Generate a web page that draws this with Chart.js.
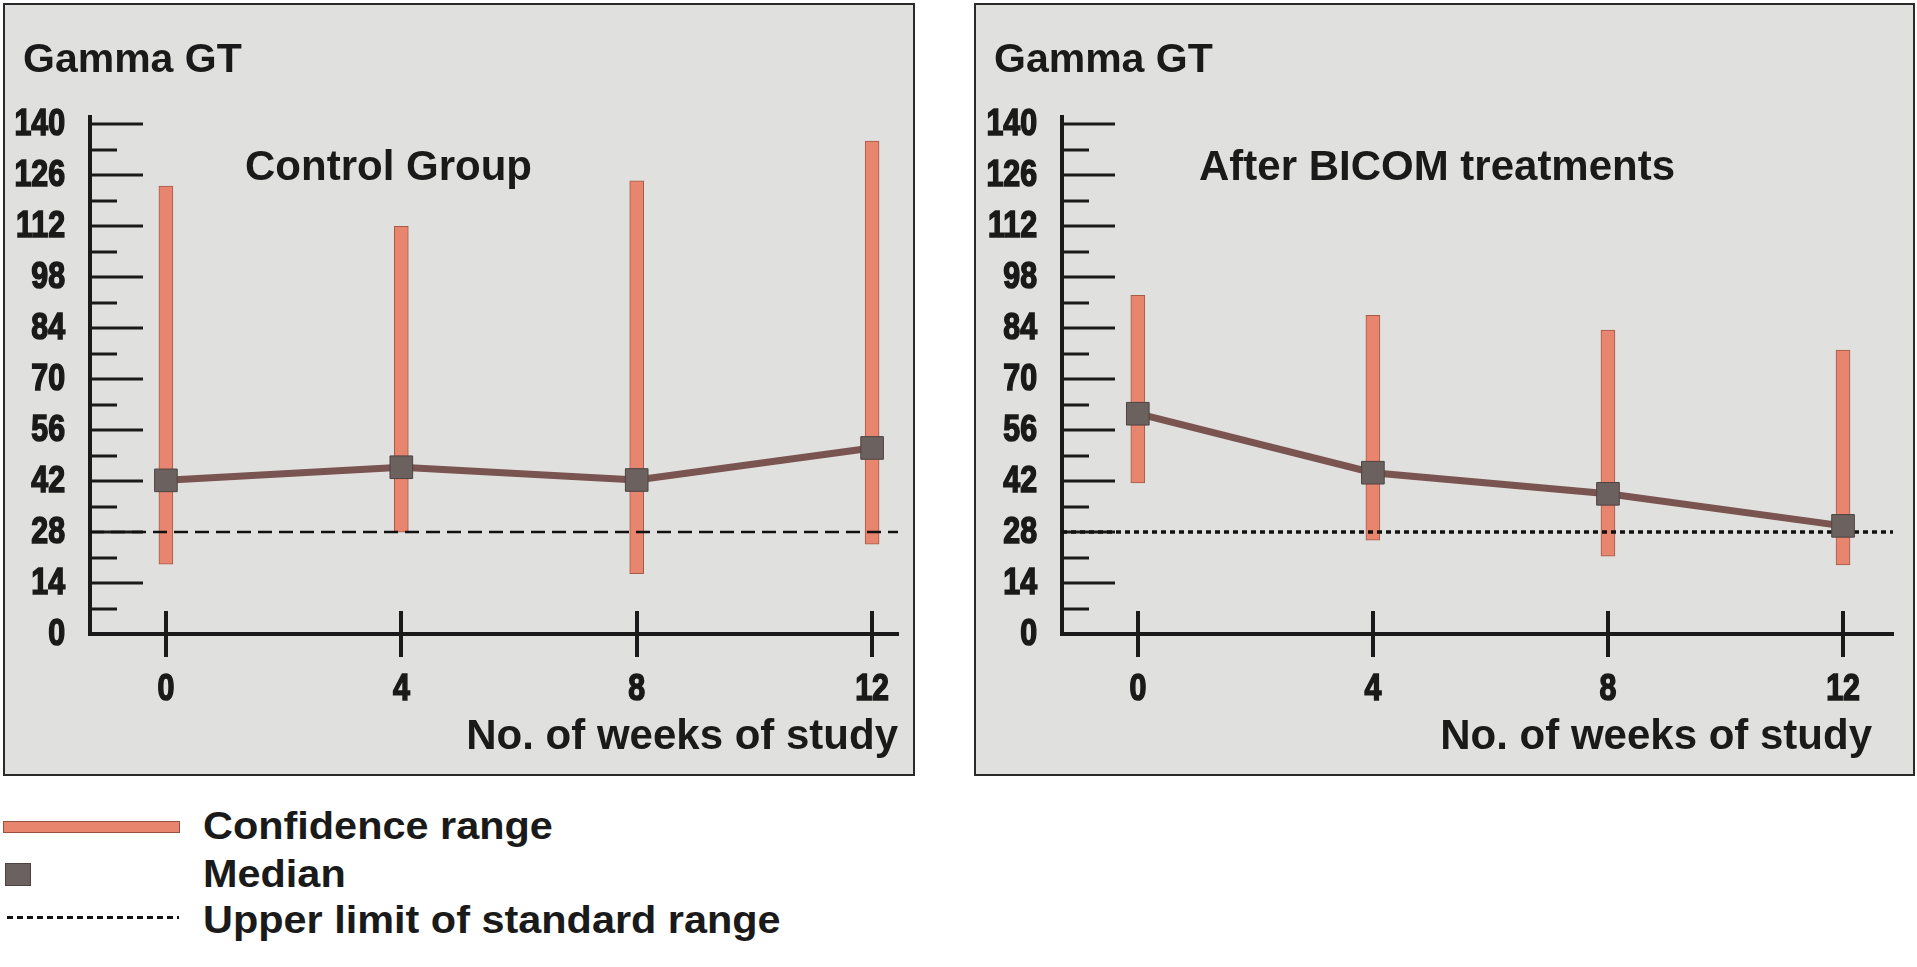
<!DOCTYPE html>
<html>
<head>
<meta charset="utf-8">
<script src="https://cdn.jsdelivr.net/npm/chart.js@4.4.0/dist/chart.umd.min.js"></script>
<style>
  body { margin: 0; background: #fff; width: 1917px; height: 967px; position: relative; overflow: hidden; font-family: "Liberation Sans", Arial, sans-serif; }
  .panel { position: absolute; top: 3px; height: 773px; background: #e0e0de; border: 2px solid #2a2a2a; box-sizing: border-box; }
  canvas { position: absolute; top: 0; }
  .leg-text { position: absolute; left: 203px; font-weight: bold; font-size: 38px; line-height: 38px; color: #1a1a1a; transform: scaleX(1.09); transform-origin: left center; white-space: nowrap; }
  .leg-bar { position: absolute; left: 3px; top: 821px; width: 177px; height: 12px; background: #e8856e; border: 1px solid #9a5040; box-sizing: border-box; }
  .leg-sq { position: absolute; left: 5px; top: 863px; width: 26px; height: 23px; background: #6b615e; border: 1px solid #4d4442; box-sizing: border-box; }
  .leg-dot { position: absolute; left: 7px; top: 916px; width: 172px; height: 3px; background: repeating-linear-gradient(to right, #111 0 6px, transparent 6px 10px); }
</style>
</head>
<body>
<div class="panel" style="left:3px; width:912px;"></div>
<div class="panel" style="left:974px; width:941px;"></div>
<canvas id="left" width="960" height="780" style="left:0"></canvas>
<canvas id="right" width="957" height="780" style="left:960px"></canvas>

<div class="leg-bar"></div>
<div class="leg-text" style="top:807px">Confidence range</div>
<div class="leg-sq"></div>
<div class="leg-text" style="top:855px">Median</div>
<div class="leg-dot"></div>
<div class="leg-text" style="top:901px">Upper limit of standard range</div>

<script>
// weeks of study (x categories)
var weeks = [0, 4, 8, 12];
// y tick labels
var yTicks = [0, 14, 28, 42, 56, 70, 84, 98, 112, 126, 140];
var upperLimit = 28;

// Control Group
var controlLow = [19.2, 28, 16.6, 24.7];
var controlHigh = [123, 112, 124.5, 135.4];
var controlMedian = [42.2, 45.8, 42.3, 51.1];

// After BICOM treatments
var bicomLow = [41.5, 25.8, 21.4, 19];
var bicomHigh = [93, 87.5, 83.5, 78];
var bicomMedian = [60.5, 44.3, 38.5, 29.7];

var ink = '#1a1a1a';
var font = "'Liberation Sans', Arial, sans-serif";

// draws a narrow (horizontally squeezed) heavy label
function narrowText(ctx, text, x, y, align) {
    ctx.save();
    ctx.translate(x, y);
    ctx.scale(0.82, 1);
    ctx.textAlign = align;
    ctx.textBaseline = 'middle';
    ctx.lineWidth = 1.6;
    ctx.strokeStyle = ink;
    ctx.fillText(text, 0, 0);
    ctx.strokeText(text, 0, 0);
    ctx.restore();
}

var decor = {
    id: 'decor',
    beforeDatasetsDraw: function(chart, args, opts) {
        var ctx = chart.ctx, a = chart.chartArea;
        var x = chart.scales.x, y = chart.scales.y;
        ctx.save();
        ctx.strokeStyle = ink;
        ctx.lineWidth = 3;
        ctx.beginPath();
        // major ticks on y, pointing inward
        yTicks.forEach(function(v) {
            if (v === 0) return;
            var py = Math.round(y.getPixelForValue(v));
            ctx.moveTo(a.left, py); ctx.lineTo(a.left + 53, py);
        });
        // minor ticks half way between labels
        for (var i = 0; i < yTicks.length - 1; i++) {
            var py = Math.round(y.getPixelForValue((yTicks[i] + yTicks[i + 1]) / 2));
            ctx.moveTo(a.left, py); ctx.lineTo(a.left + 27, py);
        }
        ctx.stroke();
        ctx.lineWidth = 4;
        ctx.beginPath();
        weeks.forEach(function(w) {
            var px = Math.round(x.getPixelForValue(w));
            ctx.moveTo(px, a.bottom - 23); ctx.lineTo(px, a.bottom + 23);
        });
        ctx.stroke();
        ctx.restore();
    },
    afterDraw: function(chart, args, opts) {
        var ctx = chart.ctx, a = chart.chartArea;
        var x = chart.scales.x, y = chart.scales.y;
        ctx.save();
        ctx.fillStyle = ink;
        // tick labels
        ctx.font = 'bold 37px ' + font;
        y.ticks.forEach(function(t) {
            narrowText(ctx, String(t.value), a.left - 25, y.getPixelForValue(t.value) + 1, 'right');
        });
        x.ticks.forEach(function(t) {
            narrowText(ctx, String(t.value), x.getPixelForValue(t.value), a.bottom + 56, 'center');
        });
        ctx.textBaseline = 'alphabetic';
        ctx.font = 'bold 41px ' + font;
        ctx.textAlign = 'left';
        ctx.fillText('Gamma GT', opts.titleX, 72);
        ctx.font = 'bold 42px ' + font;
        ctx.fillText(opts.subtitle, opts.subX, 180);
        ctx.textAlign = 'right';
        ctx.fillText('No. of weeks of study', opts.axisTitleX, 749);
        ctx.restore();
    }
};

function makeChart(id, low, high, median, p) {
    var ctx = document.getElementById(id).getContext('2d');
    return new Chart(ctx, {
        type: 'bar',
        data: {
            datasets: [{
                type: 'line',
                label: 'Median',
                data: weeks.map(function(w, i) { return {x: w, y: median[i]}; }),
                borderColor: '#7a5450',
                borderWidth: 7,
                pointStyle: 'rect',
                pointRadius: 16,
                pointBackgroundColor: '#6b615e',
                pointBorderColor: '#4d4442',
                pointBorderWidth: 1,
                order: 0
            }, {
                type: 'line',
                label: 'Upper limit of standard range',
                data: [{x: p.xMin, y: upperLimit}, {x: p.xMax, y: upperLimit}],
                borderColor: '#111',
                borderWidth: p.dashWidth,
                borderDash: p.dash,
                pointRadius: 0,
                order: 1
            }, {
                label: 'Confidence range',
                data: weeks.map(function(w, i) { return {x: w, y: [low[i], high[i]]}; }),
                backgroundColor: '#e8856e',
                borderColor: '#a65a48',
                borderWidth: 1,
                borderSkipped: false,
                barThickness: 14,
                order: 2
            }]
        },
        options: {
            responsive: false,
            animation: false,
            layout: { padding: { left: 0, top: 117, right: p.rightPad, bottom: 0 } },
            plugins: {
                legend: { display: false },
                tooltip: { enabled: false },
                decor: { titleX: p.titleX, subtitle: p.subtitle, subX: p.subX, axisTitleX: p.axisTitleX }
            },
            scales: {
                x: {
                    type: 'linear',
                    min: p.xMin,
                    max: p.xMax,
                    offset: false,
                    grid: { display: false, drawTicks: false, offset: false },
                    border: { display: true, color: ink, width: 4 },
                    afterBuildTicks: function(s) { s.ticks = weeks.map(function(v) { return {value: v}; }); },
                    afterFit: function(s) { s.height = 146; },
                    ticks: { display: false }
                },
                y: {
                    min: 0,
                    max: 142,
                    grid: { display: false, drawTicks: false },
                    border: { display: true, color: ink, width: 4 },
                    afterBuildTicks: function(s) { s.ticks = yTicks.map(function(v) { return {value: v}; }); },
                    afterFit: function(s) { s.width = p.axisLeft; },
                    ticks: { display: false }
                }
            }
        },
        plugins: [decor]
    });
}

makeChart('left', controlLow, controlHigh, controlMedian, {
    xMin: -1.29, xMax: 12.44, rightPad: 62, axisLeft: 90,
    dash: [14, 7], dashWidth: 2.5,
    titleX: 23, subtitle: 'Control Group', subX: 245, axisTitleX: 898
});
makeChart('right', bicomLow, bicomHigh, bicomMedian, {
    xMin: -1.29, xMax: 12.85, rightPad: 24, axisLeft: 102,
    dash: [5, 4], dashWidth: 3.5,
    titleX: 34, subtitle: 'After BICOM treatments', subX: 239, axisTitleX: 912
});
</script>
</body>
</html>
